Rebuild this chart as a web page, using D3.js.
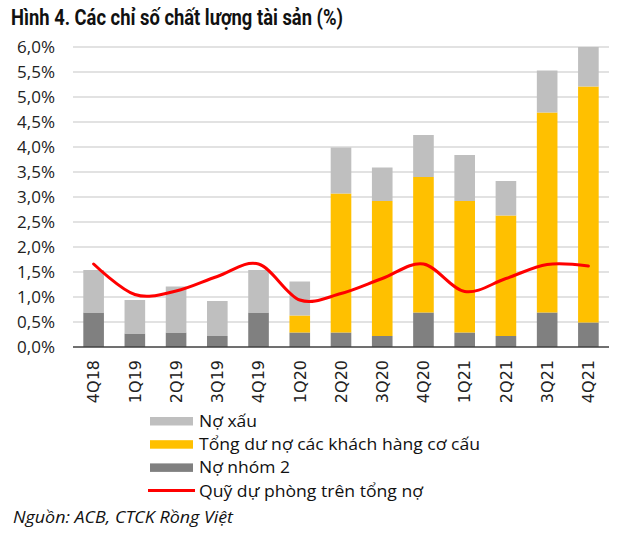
<!DOCTYPE html>
<html>
<head>
<meta charset="utf-8">
<script src="https://cdn.jsdelivr.net/npm/d3@7"></script>
<style>
  html, body { margin: 0; padding: 0; background: #fff; }
  svg { display: block; }
</style>
</head>
<body>
<svg id="chart" width="629" height="533"></svg>
<script>
// ---- Data ----
const categories = ["4Q18","1Q19","2Q19","3Q19","4Q19","1Q20","2Q20","3Q20","4Q20","1Q21","2Q21","3Q21","4Q21"];
const nhom2      = [0.69,0.27,0.29,0.22,0.69,0.29,0.29,0.22,0.69,0.29,0.22,0.69,0.49]; // Nợ nhóm 2
const coCau      = [0,0,0,0,0,0.34,2.78,2.70,2.71,2.63,2.41,4.00,4.72];                // Tổng dư nợ các KH cơ cấu
const noXau      = [0.85,0.67,0.92,0.70,0.85,0.68,0.92,0.67,0.84,0.92,0.69,0.84,0.79]; // Nợ xấu
const duPhong    = [1.66,1.05,1.12,1.41,1.66,0.94,1.07,1.37,1.66,1.11,1.37,1.65,1.62]; // Quỹ dự phòng trên tổng nợ
const yTicks     = [0,0.5,1,1.5,2,2.5,3,3.5,4,4.5,5,5.5,6];
const yTickLabels = ["0,0%","0,5%","1,0%","1,5%","2,0%","2,5%","3,0%","3,5%","4,0%","4,5%","5,0%","5,5%","6,0%"];
const seriesNames = ["Nợ xấu","Tổng dư nợ các khách hàng cơ cấu","Nợ nhóm 2","Quỹ dự phòng trên tổng nợ"];
const titleText = "Hình 4. Các chỉ số chất lượng tài sản (%)";
const sourceText = "Nguồn: ACB, CTCK Rồng Việt";

// ---- Layout ----
const svg = d3.select("#chart");
const pLeft = 73, pRight = 609, pTop = 47, pBottom = 347;
const colors = { noXau: "#BFBFBF", coCau: "#FFC000", nhom2: "#808080", line: "#FF0000" };

const x = d3.scaleBand().domain(categories).range([pLeft, pRight]).paddingInner(0.5).paddingOuter(0.25);
const y = d3.scaleLinear().domain([0, 6]).range([pBottom, pTop]);

// Title
svg.append("text")
  .attr("x", 11).attr("y", 25)
  .attr("font-family", "'Liberation Sans Narrow', Roboto, sans-serif")
  .attr("font-weight", "bold").attr("font-size", 22)
  .attr("fill", "#111")
  .attr("textLength", 332).attr("lengthAdjust", "spacingAndGlyphs")
  .text(titleText);

// Gridlines
svg.append("g").selectAll("line").data(yTicks.filter(d => d > 0)).join("line")
  .attr("x1", pLeft).attr("x2", pRight)
  .attr("y1", d => y(d)).attr("y2", d => y(d))
  .attr("stroke", "#D9D9D9").attr("stroke-width", 1.5);

// Y axis labels
const yAxis = d3.axisLeft(y).tickValues(yTicks).tickSize(0).tickPadding(0)
  .tickFormat((d, i) => yTickLabels[i]);
const gy = svg.append("g").attr("transform", `translate(${55},0)`).call(yAxis);
gy.select(".domain").remove();
gy.selectAll("text")
  .attr("font-family", "'Open Sans', sans-serif").attr("font-size", 17)
  .attr("fill", "#222").attr("dy", "0.35em");

// Stacked bars
const rows = categories.map((c, i) => ({ cat: c, nhom2: nhom2[i], coCau: coCau[i], noXau: noXau[i] }));
const stack = d3.stack().keys(["nhom2", "coCau", "noXau"])(rows);
svg.append("g").selectAll("g").data(stack).join("g")
  .attr("fill", d => colors[d.key])
  .selectAll("rect").data(d => d).join("rect")
  .attr("x", d => x(d.data.cat))
  .attr("width", x.bandwidth())
  .attr("y", d => y(Math.min(6, d[1])))
  .attr("height", d => Math.max(0, y(d[0]) - y(Math.min(6, d[1]))));

// Baseline
svg.append("line").attr("x1", pLeft).attr("x2", pRight)
  .attr("y1", y(0)).attr("y2", y(0))
  .attr("stroke", "#404040").attr("stroke-width", 1.5);

// Red smoothed line
const line = d3.line()
  .x((d, i) => x(categories[i]) + x.bandwidth() / 2)
  .y(d => y(d))
  .curve(d3.curveCardinal.tension(0));
svg.append("path").datum(duPhong)
  .attr("d", line).attr("fill", "none")
  .attr("stroke", colors.line).attr("stroke-width", 3)
  .attr("stroke-linecap", "round");

// X axis labels (rotated)
const xAxis = d3.axisBottom(x).tickSize(0).tickPadding(0);
const gx = svg.append("g").attr("transform", `translate(0,${pBottom})`).call(xAxis);
gx.select(".domain").remove();
gx.selectAll("text")
  .attr("font-family", "'DejaVu Sans', sans-serif").attr("font-size", 16)
  .attr("fill", "#222")
  .attr("text-anchor", "end")
  .attr("transform", "translate(0,13) rotate(-90)")
  .attr("x", 0).attr("y", 0).attr("dy", "0.36em");

// Legend
const legendItems = [
  { name: seriesNames[0], color: colors.noXau, type: "rect", len: 58 },
  { name: seriesNames[1], color: colors.coCau, type: "rect", len: 281 },
  { name: seriesNames[2], color: colors.nhom2, type: "rect", len: 91 },
  { name: seriesNames[3], color: colors.line, type: "line", len: 224 }
];
const lg = svg.append("g");
legendItems.forEach((it, i) => {
  const cy = 421 + i * 23.2;
  if (it.type === "rect") {
    lg.append("rect").attr("x", 150).attr("y", cy - 4).attr("width", 43).attr("height", 8.5).attr("fill", it.color);
  } else {
    lg.append("line").attr("x1", 148).attr("x2", 195).attr("y1", cy).attr("y2", cy)
      .attr("stroke", it.color).attr("stroke-width", 3);
  }
  lg.append("text").attr("x", 199).attr("y", cy + 6)
    .attr("font-family", "'Open Sans', sans-serif").attr("font-size", 17)
    .attr("fill", "#111")
    .attr("textLength", it.len).attr("lengthAdjust", "spacingAndGlyphs")
    .text(it.name);
});

// Source
svg.append("text").attr("x", 13).attr("y", 523)
  .attr("font-family", "'Open Sans', sans-serif").attr("font-style", "italic").attr("font-size", 16)
  .attr("fill", "#111")
  .attr("textLength", 220).attr("lengthAdjust", "spacingAndGlyphs")
  .text(sourceText);
</script>
</body>
</html>
